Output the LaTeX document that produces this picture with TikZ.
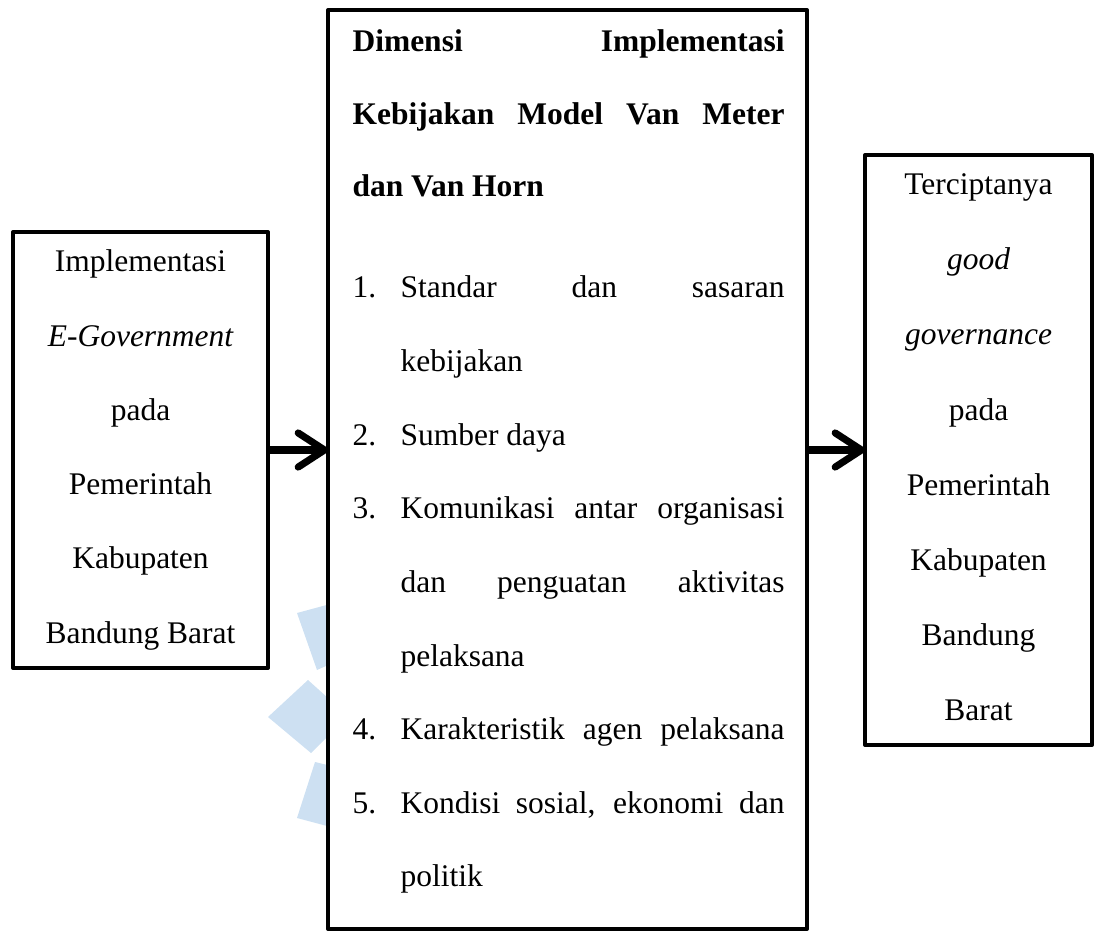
\documentclass[tikz,border=0pt]{standalone}
\usepackage{fontspec}
\setmainfont{Liberation Serif}
\usetikzlibrary{arrows.meta}
\definecolor{wm}{RGB}{205,224,242}
\tikzset{
  box/.style={draw, line width=1.5pt, fill=white, outer sep=0pt, inner sep=0pt, line join=round},
  txt/.style={anchor=base, inner sep=0pt, font=\fontsize{12pt}{14pt}\selectfont},
  ltxt/.style={txt, anchor=base west},
  arr/.style={line width=2.7pt, -{Straight Barb[length=10pt,width=13pt,line width=2.7pt,round]}}
}
\newcommand{\jline}[2]{\makebox[#1][s]{#2}}
\begin{document}
\begin{tikzpicture}[x=0.381pt,y=-0.381pt]
\useasboundingbox (0,0) rectangle (1098,932);
% watermark
\fill[wm] (297,613) -- (334,603) -- (346,657) -- (317,670) -- cycle;
\fill[wm] (268,717) -- (308,680) -- (348,716) -- (311,753) -- cycle;
\fill[wm] (315,762) -- (348,770) -- (342,830) -- (297,818) -- cycle;
% boxes
\node[box, minimum width=97.2pt, minimum height=166.1pt] (L) at (140.5,450) {};
\node[box, minimum width=182.5pt, minimum height=350.1pt] (M) at (567.5,469.5) {};
\node[box, minimum width=86.5pt, minimum height=224.8pt] (R) at (978.5,450) {};
% left text
\node[txt] (l1) at (140.5,272) {Implementasi};
\node[txt] (l2) at (140.5,346.2) {\itshape E-Government};
\node[txt] (l3) at (140.5,420.4) {pada};
\node[txt] (l4) at (140.5,494.6) {Pemerintah};
\node[txt] (l5) at (140.5,568.8) {Kabupaten};
\node[txt] (l6) at (140.5,643) {Bandung Barat};
% right text
\node[txt] (r1) at (978.5,195) {Terciptanya};
\node[txt] (r2) at (978.5,270) {\itshape good};
\node[txt] (r3) at (978.5,345) {\itshape governance};
\node[txt] (r4) at (978.5,420) {pada};
\node[txt] (r5) at (978.5,495) {Pemerintah};
\node[txt] (r6) at (978.5,570) {Kabupaten};
\node[txt] (r7) at (978.5,645) {Bandung};
\node[txt] (r8) at (978.5,720) {Barat};
% middle title
\node[ltxt] (t1) at (352,52) {\bfseries\jline{164.6pt}{Dimensi Implementasi}};
\node[ltxt] (t2) at (352,124.5) {\bfseries\jline{164.6pt}{Kebijakan Model Van Meter}};
\node[ltxt] (t3) at (352,197) {\bfseries dan Van Horn};
% list numbers
\node[ltxt] (n1) at (352,298) {1.};
\node[ltxt] (n2) at (352,445.2) {2.};
\node[ltxt] (n3) at (352,518.8) {3.};
\node[ltxt] (n4) at (352,739.6) {4.};
\node[ltxt] (n5) at (352,813.2) {5.};
% list text
\node[ltxt] (a1) at (400,298) {\jline{146.3pt}{Standar dan sasaran}};
\node[ltxt] (a2) at (400,371.6) {kebijakan};
\node[ltxt] (b1) at (400,445.2) {Sumber daya};
\node[ltxt] (c1) at (400,518.8) {\jline{146.3pt}{Komunikasi antar organisasi}};
\node[ltxt] (c2) at (400,592.4) {\jline{146.3pt}{dan penguatan aktivitas}};
\node[ltxt] (c3) at (400,666) {pelaksana};
\node[ltxt] (d1) at (400,739.6) {\jline{146.3pt}{Karakteristik agen pelaksana}};
\node[ltxt] (e1) at (400,813.2) {\jline{146.3pt}{Kondisi sosial, ekonomi dan}};
\node[ltxt] (e2) at (400,886.8) {politik};
% arrows
\draw[arr] (L.east) -- (L.east -| M.west);
\draw[arr] (R.west -| M.east) -- (R.west);
\end{tikzpicture}
\end{document}
